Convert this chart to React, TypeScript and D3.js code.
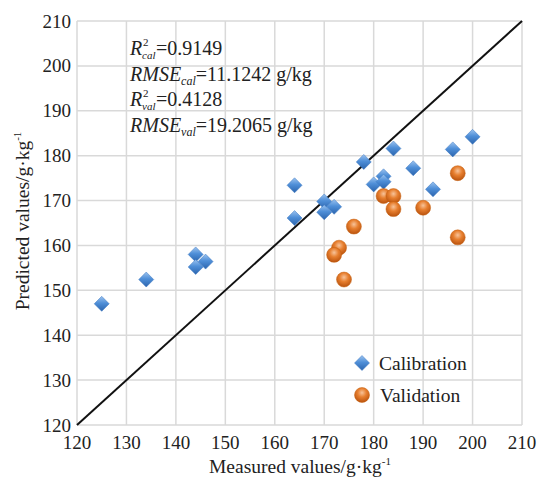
import React from 'react';
import * as d3 from 'd3';

const xTicks = [120, 130, 140, 150, 160, 170, 180, 190, 200, 210];
const yTicks = [120, 130, 140, 150, 160, 170, 180, 190, 200, 210];

const calMeasured = [125, 134, 144, 144, 146, 164, 164, 170, 170, 172, 178, 184, 180, 182, 182, 188, 192, 196, 200];
const calPredicted = [147, 152.4, 158, 155.2, 156.4, 173.4, 166.1, 169.8, 167.4, 168.6, 178.6, 181.6, 173.6, 175.4, 174.2, 177.2, 172.5, 181.4, 184.2];

const valMeasured = [197, 182, 184, 184, 190, 176, 197, 173, 172, 174];
const valPredicted = [176.1, 171, 171, 168.1, 168.4, 164.2, 161.8, 159.5, 157.9, 152.4];

const W = 538;
const H = 479;
const margin = { left: 77, right: 16, top: 21, bottom: 54 };

const serif = "'Liberation Serif', 'Times New Roman', 'DejaVu Serif', serif";

export default function App() {
  const x = d3.scaleLinear().domain([120, 210]).range([margin.left, W - margin.right]);
  const y = d3.scaleLinear().domain([120, 210]).range([H - margin.bottom, margin.top]);

  const diamond = (cx: number, cy: number, r: number) =>
    `M${cx},${cy - r}L${cx + r},${cy}L${cx},${cy + r}L${cx - r},${cy}Z`;

  const lines = [
    { base: 'R', sup: '2', sub: 'cal', rest: '=0.9149' },
    { base: 'RMSE', sup: '', sub: 'cal', rest: '=11.1242 g/kg' },
    { base: 'R', sup: '2', sub: 'val', rest: '=0.4128' },
    { base: 'RMSE', sup: '', sub: 'val', rest: '=19.2065 g/kg' },
  ];

  return (
    <svg width={W} height={H} style={{ position: 'absolute', left: 0, top: 0, fontFamily: serif }}>
      <defs>
        <linearGradient id="blueG" x1="0" y1="0" x2="0" y2="1">
          <stop offset="0%" stopColor="#9cc3ef" />
          <stop offset="45%" stopColor="#4f8fd8" />
          <stop offset="100%" stopColor="#2b64ad" />
        </linearGradient>
        <radialGradient id="orangeG" cx="50%" cy="35%" r="65%">
          <stop offset="0%" stopColor="#f7c39a" />
          <stop offset="45%" stopColor="#e77f2f" />
          <stop offset="100%" stopColor="#b9520e" />
        </radialGradient>
      </defs>
      <rect width={W} height={H} fill="#fff" />
      {/* grid */}
      {xTicks.map((t) => (
        <line key={'gx' + t} x1={x(t)} x2={x(t)} y1={y(120)} y2={y(210)} stroke="#d9d9d9" strokeWidth={1.5} />
      ))}
      {yTicks.map((t) => (
        <line key={'gy' + t} x1={x(120)} x2={x(210)} y1={y(t)} y2={y(t)} stroke="#d9d9d9" strokeWidth={1.5} />
      ))}
      {/* tick labels */}
      {xTicks.map((t) => (
        <text key={'tx' + t} x={x(t)} y={y(120) + 24} textAnchor="middle" fontSize={19} fill="#222" style={{ fontFamily: serif }}>
          {t}
        </text>
      ))}
      {yTicks.map((t) => (
        <text key={'ty' + t} x={x(120) - 6} y={y(t) + 6.5} textAnchor="end" fontSize={19} fill="#222" style={{ fontFamily: serif }}>
          {t}
        </text>
      ))}
      {/* 1:1 line */}
      <line x1={x(120)} y1={y(120)} x2={x(210)} y2={y(210)} stroke="#111" strokeWidth={2} />
      {/* calibration */}
      {calMeasured.map((m, i) => (
        <path key={'c' + i} d={diamond(x(m), y(calPredicted[i]), 7.5)} fill="url(#blueG)" stroke="#3a76c0" strokeWidth={0.5} />
      ))}
      {/* validation */}
      {valMeasured.map((m, i) => (
        <circle key={'v' + i} cx={x(m)} cy={y(valPredicted[i])} r={7.5} fill="url(#orangeG)" stroke="#c7600f" strokeWidth={0.5} />
      ))}
      {/* stats */}
      {lines.map((l, i) => {
        const by = 55 + i * 25.5;
        if (l.sup) {
          return (
            <g key={'s' + i} fill="#222" style={{ fontFamily: serif }}>
              <text x={130} y={by} fontSize={20} fontStyle="italic">R</text>
              <text x={143} y={by - 9} fontSize={11}>{l.sup}</text>
              <text x={142} y={by + 4} fontSize={11} fontStyle="italic">{l.sub}</text>
              <text x={156} y={by} fontSize={20}>{l.rest}</text>
            </g>
          );
        }
        return (
          <text key={'s' + i} x={130} y={by} fontSize={20} fill="#222" style={{ fontFamily: serif }}>
            <tspan fontStyle="italic">{l.base}</tspan>
            <tspan fontSize={12} fontStyle="italic" dy={4}>{l.sub}</tspan>
            <tspan dy={-4}>{l.rest}</tspan>
          </text>
        );
      })}
      {/* legend */}
      <path d={diamond(362, 363, 7.5)} fill="url(#blueG)" stroke="#3a76c0" strokeWidth={0.5} />
      <text x={379} y={370} fontSize={19.5} fill="#222" style={{ fontFamily: serif }}>Calibration</text>
      <circle cx={362} cy={395} r={7.5} fill="url(#orangeG)" stroke="#c7600f" strokeWidth={0.5} />
      <text x={380} y={402} fontSize={19.5} fill="#222" style={{ fontFamily: serif }}>Validation</text>
      {/* axis titles */}
      <text x={300} y={473} textAnchor="middle" fontSize={19.5} fill="#222" style={{ fontFamily: serif }}>
        Measured values/g·kg<tspan fontSize={11} dy={-8}>-1</tspan>
      </text>
      <text transform={`translate(29,221) rotate(-90)`} textAnchor="middle" fontSize={19.5} fill="#222" style={{ fontFamily: serif }}>
        Predicted values/g·kg<tspan fontSize={11} dy={-8}>-1</tspan>
      </text>
    </svg>
  );
}
